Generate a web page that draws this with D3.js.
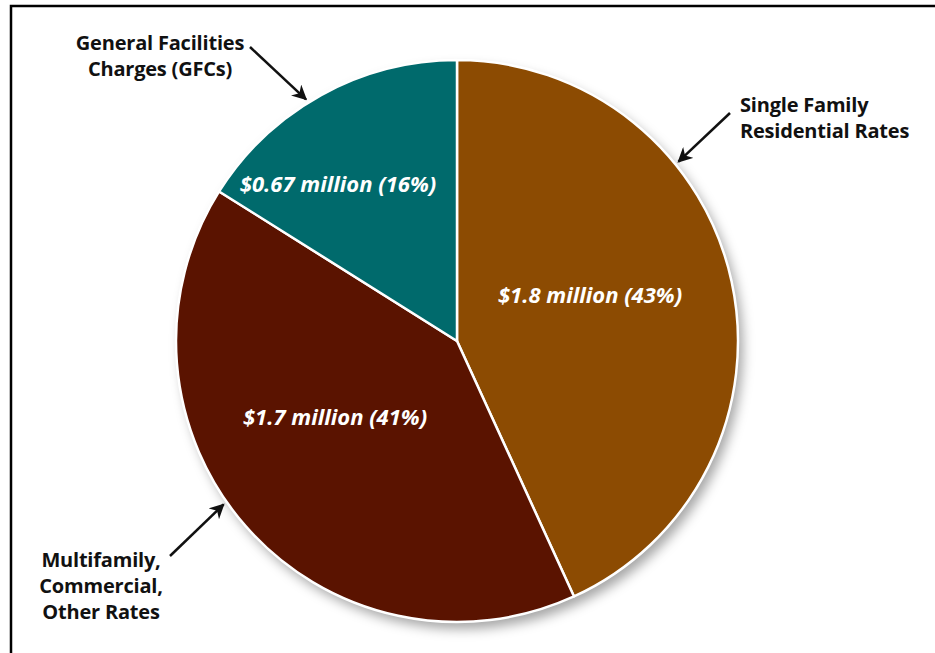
<!DOCTYPE html>
<html>
<head>
<meta charset="utf-8">
<script src="https://cdn.jsdelivr.net/npm/d3@7"></script>
<style>
  body { margin: 0; background: #fff; }
  svg { display: block; }
  .outer { font-family: "Open Sans", Lato, sans-serif; font-weight: 700; font-size: 20px; fill: #111; letter-spacing: -0.2px; }
  .inner { font-family: "Open Sans", Lato, sans-serif; font-weight: 700; font-style: italic; font-size: 22px; fill: #fff; }
</style>
</head>
<body>
<script>
const categories = ["Single Family Residential Rates", "Multifamily, Commercial, Other Rates", "General Facilities Charges (GFCs)"];
const values = [1.8, 1.7, 0.67];
const labelLines = [
    ["Single Family", "Residential Rates"],
    ["Multifamily,", "Commercial,", "Other Rates"],
    ["General Facilities", "Charges (GFCs)"]
];
const colors = ["#8c4b02", "#5a1300", "#006a6c"];

const WIDTH = 935;
const HEIGHT = 653;
const CX = 457;
const CY = 341;
const RADIUS = 281;

// where each outside label sits and where its arrow points (layout only)
const labelPos = [
    {x: 740, y: 112, anchor: "start", from: [730, 113], angle: 51},
    {x: 101, y: 567, anchor: "middle", from: [170, 556], angle: 235},
    {x: 160, y: 50, anchor: "middle", from: [250, 47], angle: 328}
];
const innerPos = [[133, -44], [-122, 78], [-119, -155]];

var svg = d3.select('body').append('svg')
    .attr('width', WIDTH)
    .attr('height', HEIGHT);

var defs = svg.append('defs');
defs.append('filter')
    .attr('id', 'shadow')
    .attr('x', '-20%').attr('y', '-20%')
    .attr('width', '140%').attr('height', '140%')
  .append('feDropShadow')
    .attr('dx', 5).attr('dy', 7)
    .attr('stdDeviation', 6)
    .attr('flood-color', '#000')
    .attr('flood-opacity', 0.35);

defs.append('marker')
    .attr('id', 'arrow')
    .attr('viewBox', '0 0 10 10')
    .attr('refX', 9).attr('refY', 5)
    .attr('markerWidth', 6).attr('markerHeight', 6)
    .attr('orient', 'auto')
  .append('path')
    .attr('d', 'M0,0 L10,5 L0,10 L3,5 Z')
    .attr('fill', '#111');

// frame (only top and left edges show)
svg.append('path')
    .attr('d', 'M11,' + HEIGHT + ' L11,6 L' + WIDTH + ',6')
    .attr('fill', 'none')
    .attr('stroke', '#000')
    .attr('stroke-width', 2.5);

var pie = d3.pie().sort(null)(values);
var arc = d3.arc().innerRadius(0).outerRadius(RADIUS);

var g = svg.append('g')
    .attr('transform', 'translate(' + CX + ',' + CY + ')');

g.append('circle')
    .attr('r', RADIUS)
    .attr('fill', '#fff')
    .attr('filter', 'url(#shadow)');

g.selectAll('.slice').data(pie)
    .enter()
    .append('path')
    .attr('class', 'slice')
    .attr('d', arc)
    .attr('fill', function(d, i) { return colors[i]; })
    .attr('stroke', '#fff')
    .attr('stroke-width', 2.5)
    .attr('stroke-linejoin', 'round');

var total = d3.sum(values);
g.selectAll('.inner').data(pie)
    .enter()
    .append('text')
    .attr('class', 'inner')
    .attr('x', function(d, i) { return innerPos[i][0]; })
    .attr('y', function(d, i) { return innerPos[i][1]; })
    .attr('text-anchor', 'middle')
    .attr('dominant-baseline', 'middle')
    .text(function(d) {
        return '$' + d.data + ' million (' + Math.round(d.data / total * 100) + '%)';
    });

// outside labels with arrows
labelLines.forEach(function(lines, i) {
    var p = labelPos[i];
    var t = svg.append('text')
        .attr('class', 'outer')
        .attr('text-anchor', p.anchor)
        .attr('x', p.x)
        .attr('y', p.y);
    lines.forEach(function(line, j) {
        t.append('tspan')
            .attr('x', p.x)
            .attr('dy', j === 0 ? 0 : 26)
            .text(line);
    });
    var a = p.angle * Math.PI / 180;
    var tip = [CX + (RADIUS + 4) * Math.sin(a), CY - (RADIUS + 4) * Math.cos(a)];
    svg.append('line')
        .attr('x1', p.from[0]).attr('y1', p.from[1])
        .attr('x2', tip[0]).attr('y2', tip[1])
        .attr('stroke', '#111')
        .attr('stroke-width', 2.5)
        .attr('marker-end', 'url(#arrow)');
});
</script>
</body>
</html>
